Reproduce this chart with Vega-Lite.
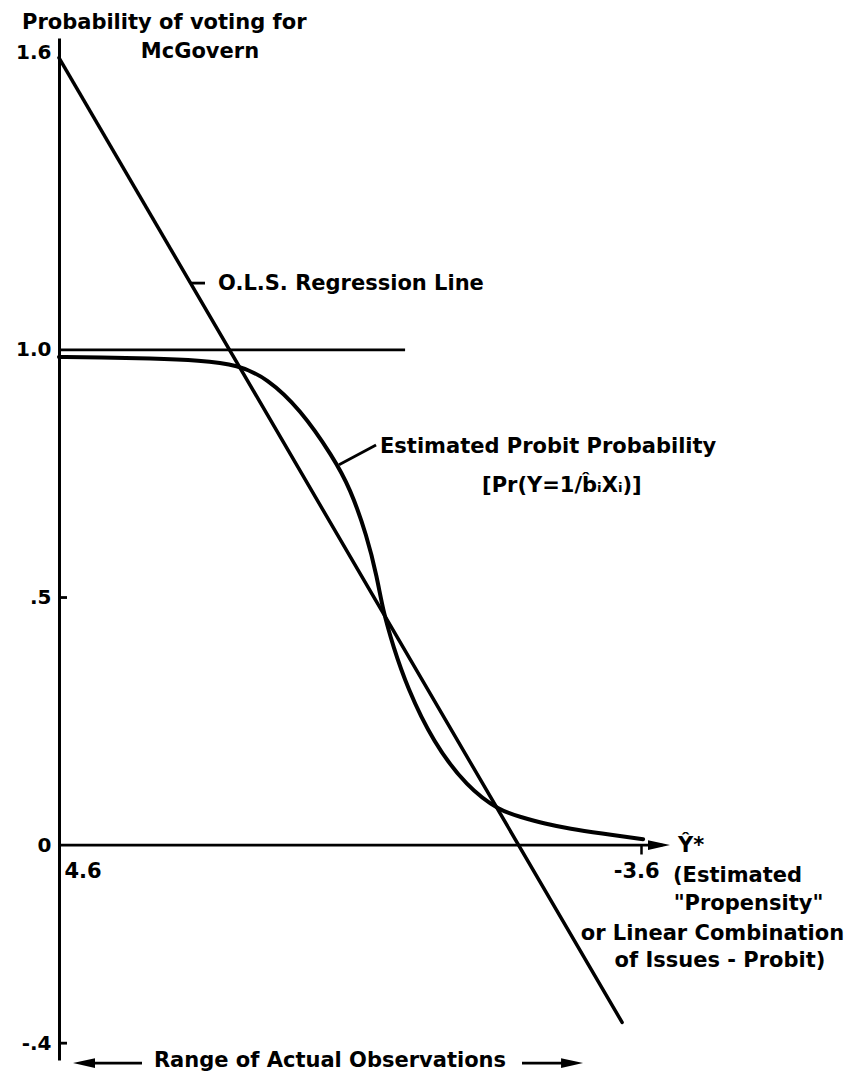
{
  "$schema": "https://vega.github.io/schema/vega-lite/v6.json",
  "width": 788,
  "height": 1022,
  "autosize": "none",
  "padding": {"left": 59, "top": 38, "right": 1, "bottom": 13},
  "background": "white",
  "config": {"view": {"stroke": null}, "font": "DejaVu Sans"},
  "datasets": {
    "ols": [{"x": 4.6, "y": 1.59}, {"x": -3.332, "y": -0.358}],
    "probit": [
      {"x": 4.6, "y": 0.986}, {"x": 4.022, "y": 0.985}, {"x": 3.318, "y": 0.983},
      {"x": 2.614, "y": 0.979}, {"x": 2.078, "y": 0.97}, {"x": 1.67, "y": 0.943},
      {"x": 1.205, "y": 0.881}, {"x": 0.74, "y": 0.784}, {"x": 0.5, "y": 0.721},
      {"x": 0.261, "y": 0.624}, {"x": 0.12, "y": 0.541}, {"x": 0.035, "y": 0.473},
      {"x": -0.106, "y": 0.402}, {"x": -0.303, "y": 0.319}, {"x": -0.669, "y": 0.208},
      {"x": -1.148, "y": 0.117}, {"x": -1.613, "y": 0.069}, {"x": -1.895, "y": 0.057},
      {"x": -2.247, "y": 0.043}, {"x": -2.599, "y": 0.033}, {"x": -3.022, "y": 0.024},
      {"x": -3.628, "y": 0.012}
    ],
    "segs": [
      {"part": "x axis", "x": 4.6, "x2": -3.9, "y": 0, "y2": 0},
      {"part": "one line", "x": 4.6, "x2": -0.275, "y": 1, "y2": 1},
      {"part": "tick .5", "x": 4.6, "x2": 4.487, "y": 0.5, "y2": 0.5},
      {"part": "tick -.4", "x": 4.6, "x2": 4.487, "y": -0.4, "y2": -0.4},
      {"part": "ols leader", "x": 2.747, "x2": 2.543, "y": 1.135, "y2": 1.135},
      {"part": "probit leader", "x": 0.655, "x2": 0.134, "y": 0.768, "y2": 0.808},
      {"part": "range left", "x": 4.163, "x2": 3.431, "y": -0.4403, "y2": -0.4403},
      {"part": "range right", "x": -1.922, "x2": -2.528, "y": -0.4403, "y2": -0.4403}
    ],
    "heads": [
      {"x": 4.403, "y": -0.4403, "dir": "left"},
      {"x": -2.782, "y": -0.4403, "dir": "right"},
      {"x": -4.007, "y": 0, "dir": "right"}
    ],
    "leftText": [
      {"text": "Probability of voting for", "x": 5.121, "y": 1.648},
      {"text": "O.L.S. Regression Line", "x": 2.36, "y": 1.121},
      {"text": "Estimated Probit Probability", "x": 0.078, "y": 0.792},
      {"text": "[Pr(Y=1/b̂ᵢXᵢ)]", "x": -1.359, "y": 0.713},
      {"text": "Ŷ*", "x": -4.12, "y": -0.014},
      {"text": "(Estimated", "x": -4.049, "y": -0.0747}
    ],
    "centerText": [
      {"text": "McGovern", "x": 2.614, "y": 1.589},
      {"text": "\"Propensity\"", "x": -5.113, "y": -0.131},
      {"text": "or Linear Combination", "x": -4.605, "y": -0.192},
      {"text": "of Issues - Probit)", "x": -4.711, "y": -0.246},
      {"text": "Range of Actual Observations", "x": 0.783, "y": -0.448}
    ]
  },
  "layer": [
    {
      "data": {"name": "ols"},
      "mark": {"type": "line", "color": "black", "strokeWidth": 3.5, "strokeCap": "round"},
      "encoding": {
        "x": {
          "field": "x", "type": "quantitative", "title": null,
          "scale": {"domain": [4.6, -6.5], "nice": false, "zero": false},
          "axis": {
            "values": [4.6, -3.6], "domain": false, "grid": false,
            "labelExpr": "datum.value == 4.6 ? '4.6' : '-3.6'",
            "offset": -215, "tickSize": 9, "tickWidth": 2.5,
            "tickColor": {"condition": {"test": "datum.value == 4.6", "value": "transparent"}, "value": "black"},
            "labelAlign": {"condition": {"test": "datum.value == 4.6", "value": "left"}, "value": "center"},
            "labelOffset": {"condition": {"test": "datum.value == 4.6", "value": 5}, "value": -5},
            "labelFlush": false, "labelPadding": 6, "labelBaseline": "top",
            "labelFont": "DejaVu Sans", "labelFontWeight": "bold", "labelFontSize": 21, "labelColor": "black"
          }
        },
        "y": {
          "field": "y", "type": "quantitative", "title": null,
          "scale": {"domain": [-0.434, 1.63], "nice": false, "zero": false},
          "axis": {
            "values": [1.6, 1.0, 0.5, 0, -0.4], "grid": false, "ticks": false,
            "labelExpr": "datum.value == 1.6 ? '1.6' : datum.value == 1 ? '1.0' : datum.value == 0.5 ? '.5' : datum.value == 0 ? '0' : '-.4'",
            "domainColor": "black", "domainWidth": 3, "labelPadding": 8,
            "labelFont": "DejaVu Sans", "labelFontWeight": "bold", "labelFontSize": 20, "labelColor": "black"
          }
        }
      }
    },
    {
      "data": {"name": "probit"},
      "mark": {"type": "line", "color": "black", "strokeWidth": 4, "interpolate": "basis", "strokeCap": "round"},
      "encoding": {
        "x": {"field": "x", "type": "quantitative", "title": null},
        "y": {"field": "y", "type": "quantitative", "title": null},
        "order": {"field": "x", "sort": "descending"}
      }
    },
    {
      "data": {"name": "segs"},
      "mark": {"type": "rule", "color": "black", "strokeWidth": 2.8},
      "encoding": {
        "x": {"field": "x", "type": "quantitative", "title": null},
        "x2": {"field": "x2"},
        "y": {"field": "y", "type": "quantitative", "title": null},
        "y2": {"field": "y2"}
      }
    },
    {
      "data": {"name": "heads"},
      "mark": {"type": "point", "filled": true, "color": "black", "opacity": 1, "size": 484},
      "encoding": {
        "x": {"field": "x", "type": "quantitative", "title": null},
        "y": {"field": "y", "type": "quantitative", "title": null},
        "shape": {
          "field": "dir", "type": "nominal", "legend": null,
          "scale": {"domain": ["left", "right"], "range": ["M0,0L2,-0.45L2,0.45Z", "M0,0L-2,-0.45L-2,0.45Z"]}
        }
      }
    },
    {
      "data": {"name": "leftText"},
      "mark": {"type": "text", "align": "left", "baseline": "alphabetic", "font": "DejaVu Sans", "fontWeight": "bold", "fontSize": 21, "color": "black"},
      "encoding": {
        "x": {"field": "x", "type": "quantitative", "title": null},
        "y": {"field": "y", "type": "quantitative", "title": null},
        "text": {"field": "text"}
      }
    },
    {
      "data": {"name": "centerText"},
      "mark": {"type": "text", "align": "center", "baseline": "alphabetic", "font": "DejaVu Sans", "fontWeight": "bold", "fontSize": 21, "color": "black"},
      "encoding": {
        "x": {"field": "x", "type": "quantitative", "title": null},
        "y": {"field": "y", "type": "quantitative", "title": null},
        "text": {"field": "text"}
      }
    }
  ]
}
